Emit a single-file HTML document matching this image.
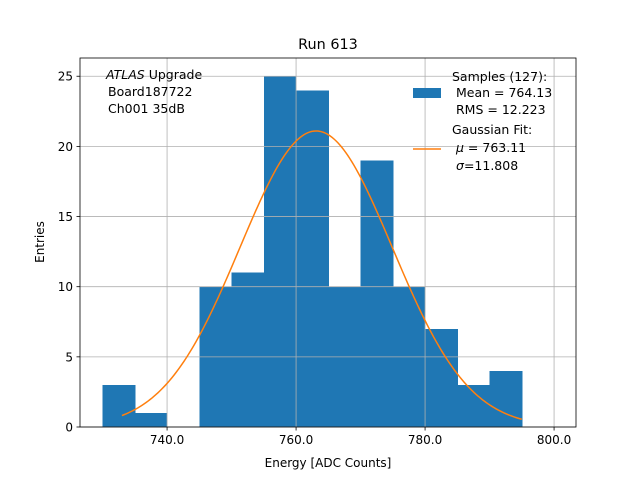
<!DOCTYPE html>
<html><head><meta charset="utf-8"><style>
body{margin:0;background:#fff;font-family:"DejaVu Sans","Liberation Sans",sans-serif;}
svg text{font-family:"DejaVu Sans","Liberation Sans",sans-serif;}
</style></head><body>
<svg id="chart" width="640" height="480" xmlns="http://www.w3.org/2000/svg">
<rect width="640" height="480" fill="#fff"/>
<g id="bars" shape-rendering="crispEdges"></g><g id="grid"></g><g id="curve"></g><g id="axes"></g>
<text x="328" y="49" font-size="14.4" text-anchor="middle">Run 613</text>
<text x="328" y="467" font-size="12" text-anchor="middle">Energy [ADC Counts]</text>
<text transform="translate(44,242) rotate(-90)" font-size="12" text-anchor="middle">Entries</text>
<g font-size="12.5">
<text x="106" y="79"><tspan font-style="italic">ATLAS</tspan> Upgrade</text>
<text x="108" y="96">Board187722</text>
<text x="108" y="113">Ch001 35dB</text>
</g>
<g font-size="12.5">
<rect x="413" y="88" width="28" height="10" fill="#1f77b4"/>
<text x="452" y="81">Samples (127):</text>
<text x="456" y="97">Mean = 764.13</text>
<text x="456" y="114">RMS = 12.223</text>
<line x1="413" y1="149" x2="441" y2="149" stroke="#ff7f0e" stroke-width="1.5"/>
<text x="452" y="134">Gaussian Fit:</text>
<text x="456" y="152"><tspan font-style="italic">μ</tspan> = 763.11</text>
<text x="456" y="170"><tspan font-style="italic">σ</tspan>=11.808</text>
</g>
</svg>
<script>
const binEdges=[730,735,740,745,750,755,760,765,770,775,780,785,790,795];
const counts=[3,1,0,10,11,25,24,10,19,10,7,3,4];
const xTicks=[740,760,780,800];
const yTicks=[0,5,10,15,20,25];
const fitMu=763.11, fitSigma=11.808, fitAmp=21.1, fitRange=[733,795];
const L=80,R=576,T=58,B=427,xmin=726.5,xmax=803.4,ymax=26.3;
const sx=v=>L+(v-xmin)/(xmax-xmin)*(R-L);
const sy=v=>B-v/ymax*(B-T);
const NS="http://www.w3.org/2000/svg";
function mk(p,t,a){const e=document.createElementNS(NS,t);for(const k in a)e.setAttribute(k,a[k]);p.appendChild(e);return e;}
const grid=document.getElementById('grid'),bars=document.getElementById('bars'),curve=document.getElementById('curve'),axes=document.getElementById('axes');
xTicks.forEach(v=>{const x=sx(v);
const g=mk(grid,'line',{x1:x,x2:x,y1:T,y2:B,stroke:'#b0b0b0','stroke-width':0.8});

mk(axes,'line',{x1:x,x2:x,y1:B,y2:B+3.5,stroke:'#000','stroke-width':0.8});
const t=mk(axes,'text',{x:x,y:B+17,'font-size':12,'text-anchor':'middle'});t.textContent=v.toFixed(1);
});
yTicks.forEach(v=>{const y=sy(v);
const g=mk(grid,'line',{x1:L,x2:R,y1:y,y2:y,stroke:'#b0b0b0','stroke-width':0.8});

mk(axes,'line',{x1:L-3.5,x2:L,y1:y,y2:y,stroke:'#000','stroke-width':0.8});
const t=mk(axes,'text',{x:L-7,y:y+4.5,'font-size':12,'text-anchor':'end'});t.textContent=v;
});
counts.forEach((c,i)=>{if(!c)return;const x0=sx(binEdges[i]),x1=sx(binEdges[i+1]);
const r=mk(bars,'rect',{x:x0,y:sy(c),width:x1-x0+0.6,height:B-sy(c),fill:'#1f77b4'});
});
let d='';for(let i=0;i<=200;i++){const v=fitRange[0]+(fitRange[1]-fitRange[0])*i/200;const y=fitAmp*Math.exp(-0.5*((v-fitMu)/fitSigma)**2);d+=(i?'L':'M')+sx(v).toFixed(2)+','+sy(y).toFixed(2);}
const p=mk(curve,'path',{d:d,fill:'none',stroke:'#ff7f0e','stroke-width':1.5});

const f=mk(axes,'rect',{x:L,y:T,width:R-L,height:B-T,fill:'none',stroke:'#000','stroke-width':0.8});

</script>
</body></html>
